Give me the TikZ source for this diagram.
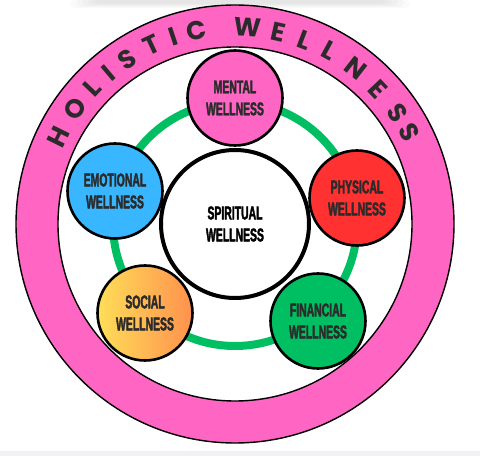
\documentclass[tikz,border=0pt]{standalone}
\usepackage{fontspec}
\newfontfamily\titlefont{Poppins}
\newfontfamily\wellfont{Liberation Sans}[FakeStretch=0.56,FakeBold=2]
\definecolor{pinkW}{HTML}{FF66C4}
\definecolor{blueW}{HTML}{38B6FF}
\definecolor{redW}{HTML}{FF3131}
\definecolor{greenW}{HTML}{00BF63}
\definecolor{yelW}{HTML}{FFDE59}
\definecolor{oraW}{HTML}{FF914D}
\definecolor{txtW}{HTML}{2B2B2B}
\definecolor{edgeW}{HTML}{F0F1F5}
\begin{document}
\begin{tikzpicture}[x=1pt, y=1pt, line join=round, line cap=round,
  well/.style={circle, draw=black, line width=2.6pt, minimum size=95pt, inner sep=0pt,
    align=center, text=txtW, font=\wellfont\bfseries\fontsize{18.6}{22}\selectfont},
  letter/.style={text=txtW, inner sep=0pt, font=\titlefont\bfseries\fontsize{26}{26}\selectfont}]
\useasboundingbox (0,0) rectangle (480,456);
% edges of the page
\fill[edgeW] (0,0) rectangle (480,5);
\foreach \s in {0,1,2,3,4}
\fill[black, opacity=0.02, rounded corners=5pt] (70+6*\s,457) rectangle (410-6*\s,448+\s);
% outer ring with its title
\path (235,232) coordinate (O);
\fill[pinkW, even odd rule] (O) circle (219) (O) circle (177);
\draw[line width=1.4pt] (O) circle (219) (O) circle (177);
\foreach \l/\a in {H/153.8,O/144.1,L/136.3,I/130.1,S/123.1,T/115,I/108.4,C/101.2,
  W/86.2,E/77.3,L/69.3,L/61.5,N/52.2,E/43.3,S/34.4,S/27.9}
\path (O) ++(\a:197) node[letter, rotate=\a-90]{\l};
% inner ring
\draw[greenW, line width=8pt] (O) circle (122);
\node[well, minimum size=148pt, line width=4pt, fill=white, text=black] (spiritual) at (O) {SPIRITUAL\\WELLNESS};
\node[well, fill=pinkW] (mental) at (235,358) {MENTAL\\WELLNESS};
\node[well, fill=blueW] (emotional) at (115,265) {EMOTIONAL\\WELLNESS};
\node[well, fill=redW] (physical) at (357,258) {PHYSICAL\\WELLNESS};
\node[well, left color=yelW, right color=oraW] (social) at (145,143) {SOCIAL\\WELLNESS};
\node[well, fill=greenW] (financial) at (318,135) {FINANCIAL\\WELLNESS};
\end{tikzpicture}
\end{document}
